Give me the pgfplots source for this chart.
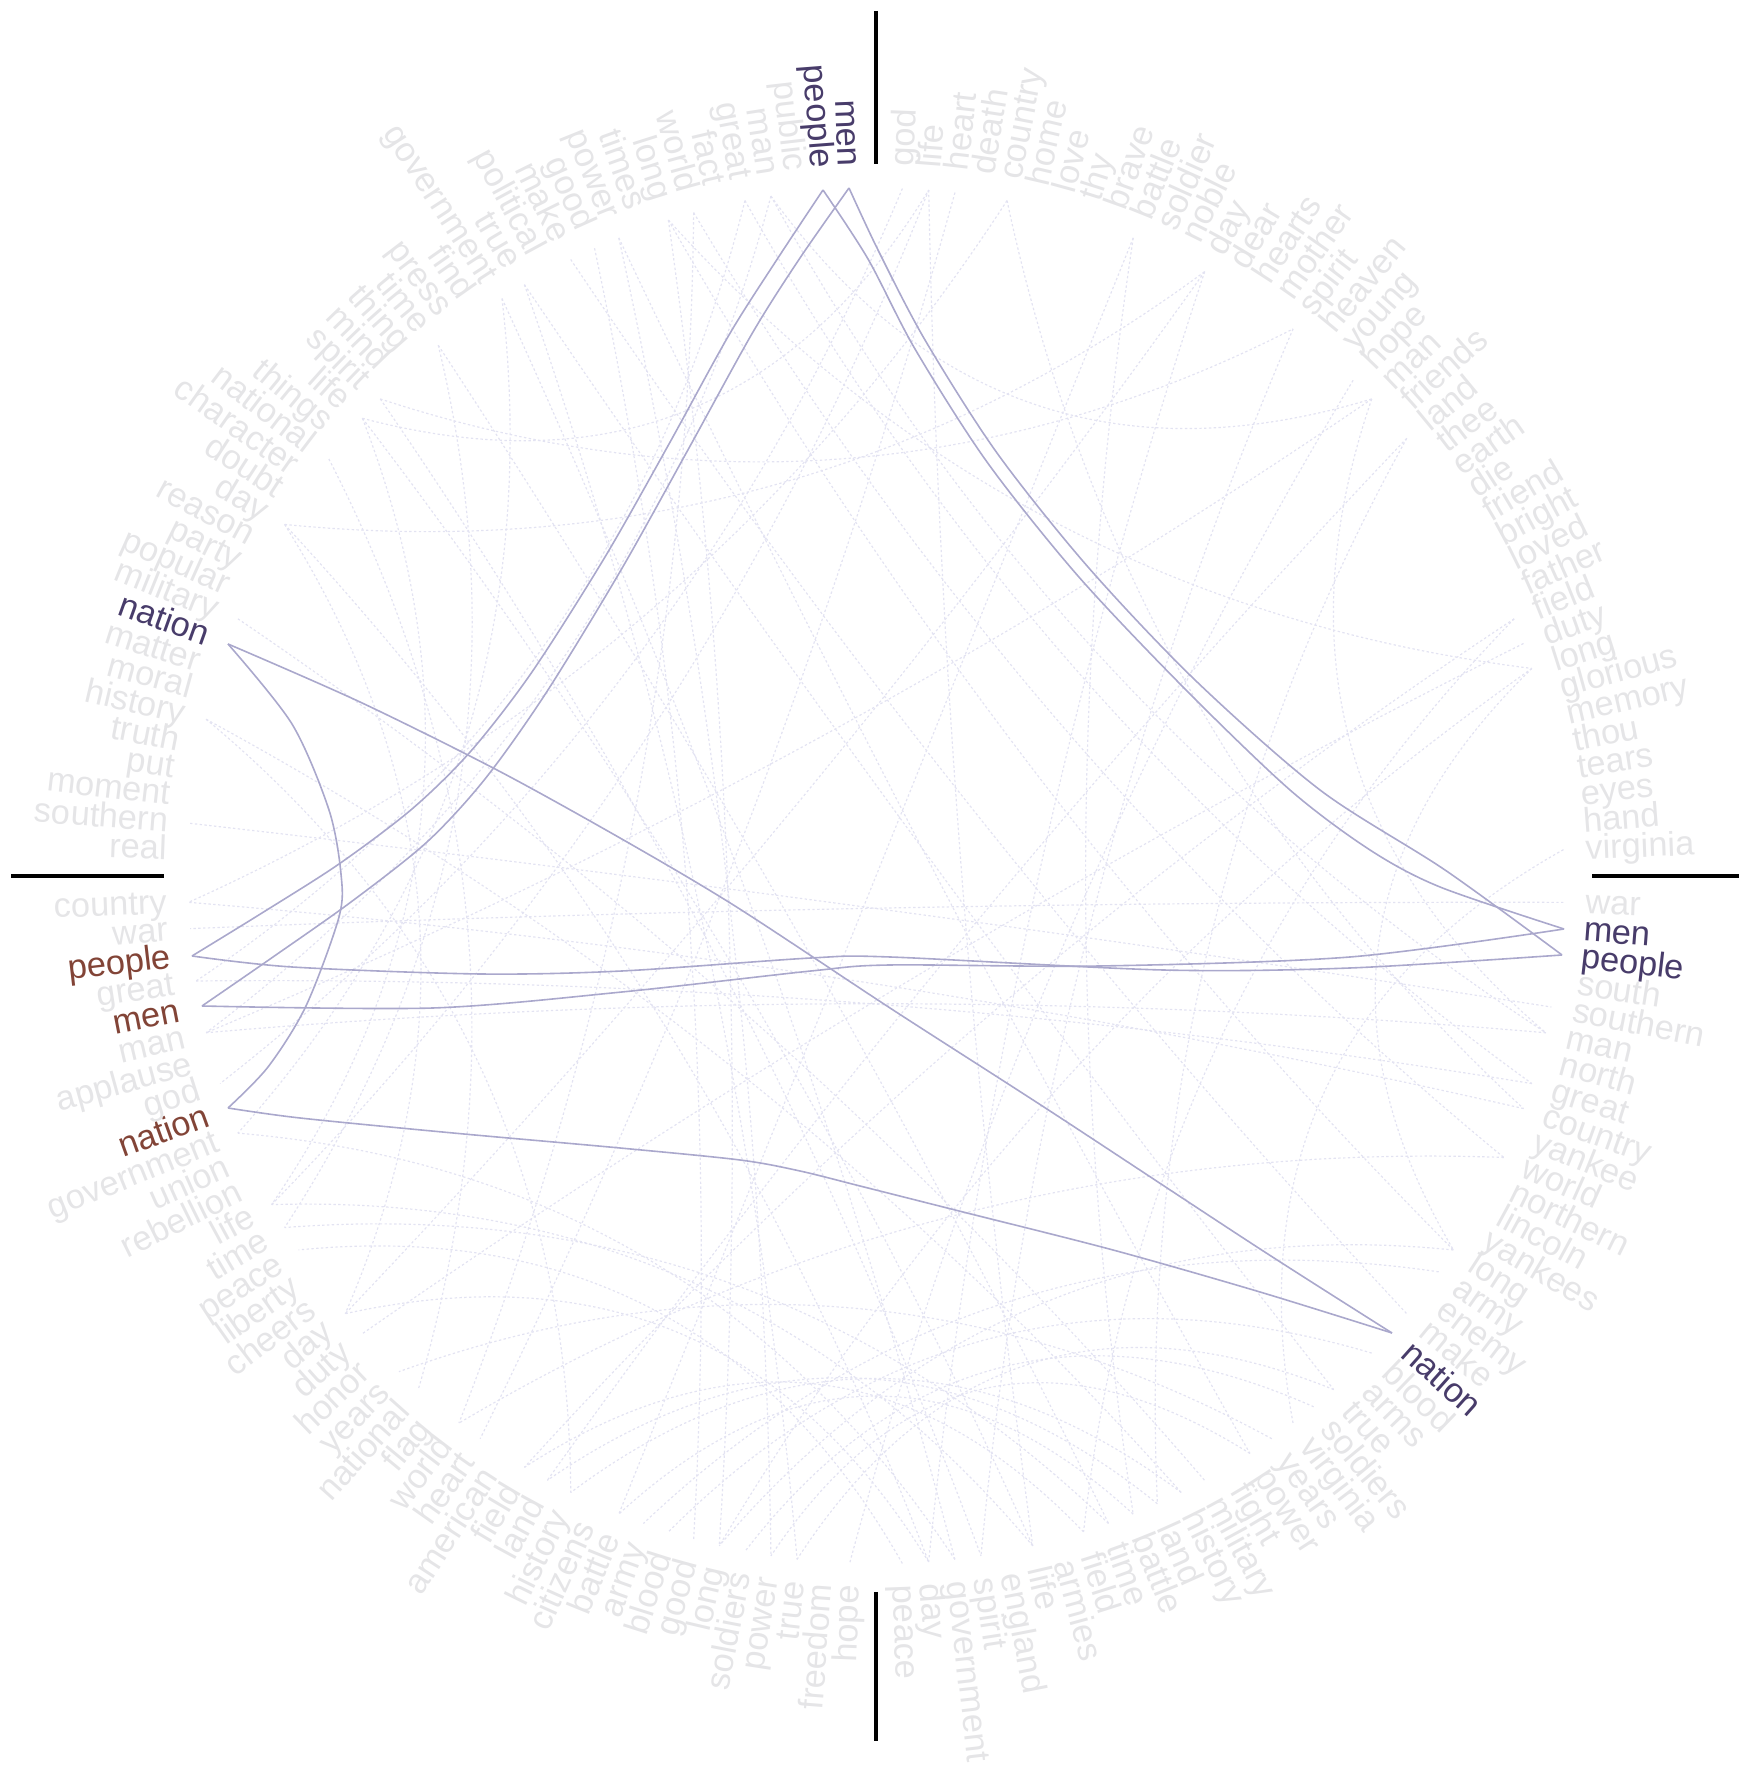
\documentclass[border=0pt]{standalone}
\usepackage{pgfplots}
\pgfplotsset{compat=1.18}
\usepackage{fontspec}
\setmainfont{Liberation Sans}
\definecolor{wgray}{RGB}{229,229,231}
\definecolor{hpur}{RGB}{72,60,106}
\definecolor{hbrn}{RGB}{130,68,55}
\definecolor{lnk}{RGB}{170,168,204}
\definecolor{flnk}{RGB}{227,227,242}
\tikzset{
  wd/.style={font=\fontsize{8.6bp}{10bp}\selectfont, inner sep=0pt, outer sep=0pt},
  g/.style={text=wgray}, p/.style={text=hpur}, b/.style={text=hbrn},
  flk/.style={draw=flnk, line width=0.3bp, dash pattern=on 0.6bp off 0.6bp},
}
% word on left half (text reads toward the centre) / right half
\newcommand\WL[3]{\node[wd,#3,anchor=mid east,rotate={#1+180}] at (axis cs:{876+710*cos(#1)},{-876+710*sin(#1)}) {#2};}
\newcommand\WR[3]{\node[wd,#3,anchor=mid west,rotate={#1}] at (axis cs:{876+710*cos(#1)},{-876+710*sin(#1)}) {#2};}
% angle of the i-th word in each quarter
\newcommand\qA[1]{(92.2+2.195*#1)}
\newcommand\qB[1]{(87.8-2.195*#1)}
\newcommand\qC[1]{(-2.2-2.195*#1)}
\newcommand\qD[1]{(267.8-2.195*#1)}
% faint link between two word anchors
\newcommand\LK[2]{\draw[flk] (axis cs:{876+688*cos(#1)},{-876+688*sin(#1)}) .. controls (axis cs:{876+688*(0.5433*cos(#1)+0.21*cos(#2))},{-876+688*(0.5433*sin(#1)+0.21*sin(#2))}) and (axis cs:{876+688*(0.21*cos(#1)+0.5433*cos(#2))},{-876+688*(0.21*sin(#1)+0.5433*sin(#2))}) .. (axis cs:{876+688*cos(#2)},{-876+688*sin(#2)});}
\begin{document}
\begin{tikzpicture}
\begin{axis}[hide axis, scale only axis, width=434.75bp, height=444bp,
  xmin=0, xmax=1739, ymin=-1776, ymax=0, clip=false]
% ---- faint links ----
\LK{\qA{3}}{\qB{20}}\LK{\qA{3}}{\qC{5}}\LK{\qA{3}}{\qD{34}}\LK{\qB{20}}{\qC{5}}\LK{\qB{20}}{\qD{34}}\LK{\qC{5}}{\qD{34}}
\LK{\qA{4}}{\qC{7}}\LK{\qA{4}}{\qD{36}}\LK{\qC{7}}{\qD{36}}
\LK{\qA{6}}{\qC{10}}\LK{\qA{6}}{\qD{16}}\LK{\qC{10}}{\qD{16}}
\LK{\qA{7}}{\qB{32}}\LK{\qA{7}}{\qC{14}}\LK{\qA{7}}{\qD{5}}\LK{\qB{32}}{\qC{14}}\LK{\qB{32}}{\qD{5}}\LK{\qC{14}}{\qD{5}}
\LK{\qA{9}}{\qC{25}}\LK{\qA{9}}{\qD{3}}\LK{\qC{25}}{\qD{3}}
\LK{\qA{10}}{\qD{6}}
\LK{\qA{11}}{\qC{17}}
\LK{\qA{13}}{\qC{21}}\LK{\qA{13}}{\qD{2}}\LK{\qC{21}}{\qD{2}}
\LK{\qA{14}}{\qC{37}}\LK{\qA{14}}{\qD{30}}\LK{\qC{37}}{\qD{30}}
\LK{\qA{17}}{\qC{31}}\LK{\qA{17}}{\qD{26}}\LK{\qC{31}}{\qD{26}}
\LK{\qA{20}}{\qB{16}}\LK{\qA{20}}{\qC{36}}\LK{\qB{16}}{\qC{36}}
\LK{\qA{21}}{\qB{1}}\LK{\qA{21}}{\qC{34}}\LK{\qA{21}}{\qD{27}}\LK{\qB{1}}{\qC{34}}\LK{\qB{1}}{\qD{27}}\LK{\qC{34}}{\qD{27}}
\LK{\qA{23}}{\qD{18}}
\LK{\qA{26}}{\qB{12}}\LK{\qA{26}}{\qC{38}}\LK{\qA{26}}{\qD{22}}\LK{\qB{12}}{\qC{38}}\LK{\qB{12}}{\qD{22}}\LK{\qC{38}}{\qD{22}}
\LK{\qA{30}}{\qC{27}}
\LK{\qA{34}}{\qC{28}}\LK{\qA{34}}{\qD{11}}\LK{\qC{28}}{\qD{11}}
\LK{\qA{38}}{\qC{4}}
\LK{\qB{0}}{\qD{32}}
\LK{\qB{2}}{\qD{15}}
\LK{\qB{4}}{\qC{8}}\LK{\qB{4}}{\qD{39}}\LK{\qC{8}}{\qD{39}}
\LK{\qB{9}}{\qC{30}}\LK{\qB{9}}{\qD{9}}\LK{\qC{30}}{\qD{9}}
\LK{\qB{19}}{\qD{0}}
\LK{\qB{22}}{\qC{29}}\LK{\qB{22}}{\qD{12}}\LK{\qC{29}}{\qD{12}}
\LK{\qB{30}}{\qC{32}}\LK{\qB{30}}{\qD{13}}\LK{\qC{32}}{\qD{13}}
\LK{\qB{31}}{\qD{21}}
\LK{\qB{39}}{\qC{23}}
\LK{\qC{0}}{\qD{38}}
\LK{\qC{15}}{\qD{8}}
\LK{\qC{19}}{\qD{7}}
\LK{\qC{22}}{\qD{4}}
\LK{\qC{24}}{\qD{19}}
\LK{\qC{39}}{\qD{25}}
% ---- highlighted links ----
% people (top) -> people (left)
\addplot[lnk, line width=0.4bp, smooth] coordinates {(823,-190) (776,-261) (729,-335) (669,-444) (605,-557) (532,-672) (471,-751) (412,-809) (339,-864) (262,-913) (192,-956)};
% men (top) -> men (left)
\addplot[lnk, line width=0.4bp, smooth] coordinates {(849,-188) (800,-258) (753,-332) (689,-448) (621,-570) (546,-693) (485,-779) (427,-842) (351,-902) (273,-957) (202,-1006)};
% top (men) -> right (outer)
\addplot[lnk, line width=0.4bp, smooth] coordinates {(849,-188) (878,-250) (925,-340) (997,-453) (1088,-567) (1195,-680) (1320,-790) (1445,-870) (1562,-955)};
% top (people) -> right (inner)
\addplot[lnk, line width=0.4bp, smooth] coordinates {(823,-190) (868,-259) (915,-349) (987,-462) (1078,-576) (1185,-689) (1290,-790) (1370,-850) (1440,-887) (1564,-929)};
% people left -> people right
\addplot[lnk, line width=0.4bp, smooth] coordinates {(192,-956) (292,-967) (480,-974) (622,-971) (811,-958) (890,-957) (1163,-970) (1350,-968) (1562,-955)};
% men left -> men right
\addplot[lnk, line width=0.4bp, smooth] coordinates {(202,-1006) (433,-1008) (622,-992) (811,-971) (890,-965) (1100,-966) (1350,-957) (1564,-929)};
% nation (top-left) -> nation (bottom-left)
\addplot[lnk, line width=0.4bp, smooth] coordinates {(228,-644) (292,-724) (329,-810) (341,-874) (339,-917) (306,-1006) (268,-1067) (228,-1108)};
% nation (top-left) -> nation (bottom-right)
\addplot[lnk, line width=0.4bp, smooth] coordinates {(228,-644) (360,-702) (497,-770) (620,-838) (735,-906) (890,-1008) (1050,-1111) (1257,-1247) (1392,-1333)};
% nation (bottom-left) -> nation (bottom-right)
\addplot[lnk, line width=0.4bp, smooth] coordinates {(228,-1108) (300,-1118) (453,-1133) (620,-1148) (740,-1160) (800,-1171) (860,-1186) (963,-1212) (1113,-1250) (1260,-1292) (1392,-1333)};
% ---- axis marks ----
\addplot[black, line width=0.85bp] coordinates {(11,-876) (164,-876)};
\addplot[black, line width=0.85bp] coordinates {(1592,-876) (1739,-876)};
\addplot[black, line width=0.85bp] coordinates {(876,-11) (876,-164)};
\addplot[black, line width=0.85bp] coordinates {(876,-1592) (876,-1741)};
% ---- words ----
\foreach \w/\s [count=\i from 0] in {men/p,people/p,public/g,man/g,great/g,fact/g,world/g,long/g,times/g,power/g,good/g,make/g,political/g,true/g,government/g,find/g,press/g,time/g,thing/g,mind/g,spirit/g,life/g,things/g,national/g,character/g,doubt/g,day/g,reason/g,party/g,popular/g,military/g,nation/p,matter/g,moral/g,history/g,truth/g,put/g,moment/g,southern/g,real/g}{%
  \edef\tmp{\noexpand\WL{92.2+2.195*\i}{\w}{\s}}\tmp}
\foreach \w/\s [count=\i from 0] in {god/g,life/g,heart/g,death/g,country/g,home/g,love/g,thy/g,brave/g,battle/g,soldier/g,noble/g,day/g,dear/g,hearts/g,mother/g,spirit/g,heaven/g,young/g,hope/g,man/g,friends/g,land/g,thee/g,earth/g,die/g,friend/g,bright/g,loved/g,father/g,field/g,duty/g,long/g,glorious/g,memory/g,thou/g,tears/g,eyes/g,hand/g,virginia/g}{%
  \edef\tmp{\noexpand\WR{87.8-2.195*\i}{\w}{\s}}\tmp}
\foreach \w/\s [count=\i from 0] in {war/g,men/p,people/p,south/g,southern/g,man/g,north/g,great/g,country/g,yankee/g,world/g,northern/g,lincoln/g,yankees/g,long/g,army/g,enemy/g,make/g,nation/p,blood/g,arms/g,true/g,soldiers/g,virginia/g,years/g,power/g,fight/g,military/g,history/g,land/g,battle/g,time/g,field/g,armies/g,life/g,england/g,spirit/g,government/g,day/g,peace/g}{%
  \edef\tmp{\noexpand\WR{-2.2-2.195*\i}{\w}{\s}}\tmp}
\foreach \w/\s [count=\i from 0] in {hope/g,freedom/g,true/g,power/g,soldiers/g,long/g,good/g,blood/g,army/g,battle/g,citizens/g,history/g,land/g,field/g,american/g,heart/g,world/g,flag/g,national/g,years/g,honor/g,duty/g,day/g,cheers/g,liberty/g,peace/g,time/g,life/g,rebellion/g,union/g,government/g,nation/b,god/g,applause/g,man/g,men/b,great/g,people/b,war/g,country/g}{%
  \edef\tmp{\noexpand\WL{267.8-2.195*\i}{\w}{\s}}\tmp}
\end{axis}
\pgfresetboundingbox
\useasboundingbox (current axis.south west) rectangle (current axis.north east);
\end{tikzpicture}
\end{document}
